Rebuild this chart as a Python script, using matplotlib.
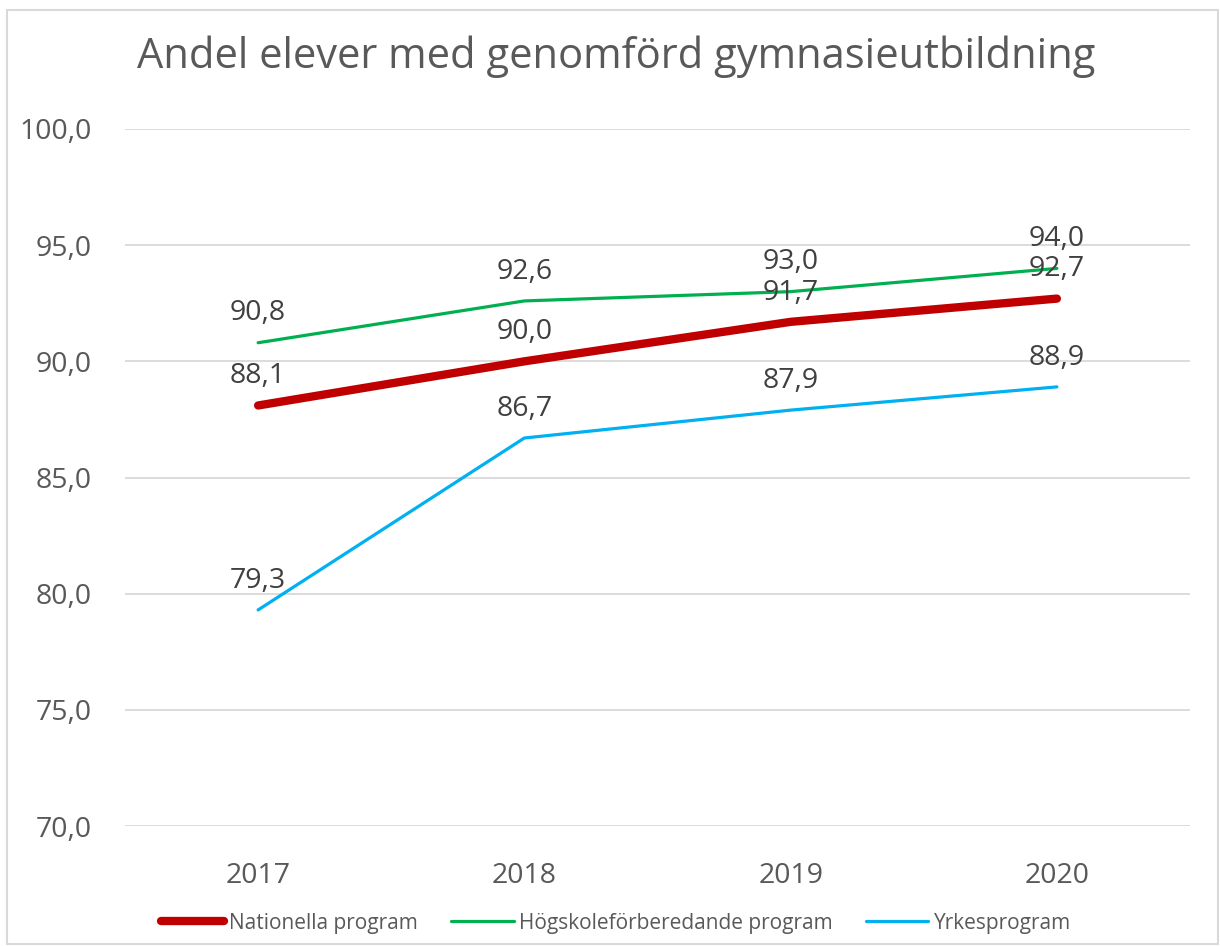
import matplotlib
matplotlib.use("Agg")
import matplotlib.pyplot as plt
from matplotlib.patches import Rectangle

years = ["2017", "2018", "2019", "2020"]
nationella = [88.1, 90.0, 91.7, 92.7]
hogskole = [90.8, 92.6, 93.0, 94.0]
yrkes = [79.3, 86.7, 87.9, 88.9]
yticks = [70.0, 75.0, 80.0, 85.0, 90.0, 95.0, 100.0]

plt.rcParams['font.family'] = ['Open Sans', 'DejaVu Sans']

fig = plt.figure(figsize=(12.2, 9.46), dpi=100)
ax = fig.add_axes([125/1220, 1-826/946, (1190-125)/1220, (826-129)/946])

x = list(range(len(years)))
series = [
    (nationella, "Nationella program", "#C00000", 6.0),
    (hogskole, "Högskoleförberedande program", "#00B050", 2.3),
    (yrkes, "Yrkesprogram", "#00B0F0", 2.3),
]
order = [1, 2, 0]
handles = {}
for i in order:
    vals, name, col, lw = series[i]
    h, = ax.plot(x, vals, color=col, lw=lw, solid_capstyle='round', label=name, zorder=3)
    handles[i] = h
for vals, name, col, lw in series:
    for xi, v in zip(x, vals):
        ax.annotate(f"{v:.1f}".replace(".", ","), (xi, v), xytext=(0, 11),
                    textcoords="offset points", ha="center", va="bottom",
                    fontsize=20.5, color="#404040", zorder=4)

ax.set_xlim(-0.5, 3.5)
ax.set_ylim(70, 100)
ax.set_yticks(yticks)
ax.set_yticklabels([f"{t:.1f}".replace(".", ",") for t in yticks])
ax.set_xticks(x)
ax.set_xticklabels(years)
ax.tick_params(axis='both', length=0, labelsize=20.5, labelcolor="#595959")
ax.tick_params(axis='y', pad=24)
ax.tick_params(axis='x', pad=26)
ax.grid(axis='y', color="#D9D9D9", lw=1.3)
ax.set_axisbelow(True)
for s in ax.spines.values():
    s.set_visible(False)

fig.text(0.505, 1-57/946, "Andel elever med genomförd gymnasieutbildning",
         ha="center", va="center", fontsize=30, color="#595959")

leg = fig.legend([handles[0], handles[1], handles[2]],
                 [s[1] for s in series], loc="center", bbox_to_anchor=(0.505, 1-923/946),
                 ncol=3, frameon=False, fontsize=15, handlelength=3.0,
                 columnspacing=1.6, handletextpad=0.25)
for t in leg.get_texts():
    t.set_color("#595959")

fig.patches.append(Rectangle((7/1220, 1-944/946), (1218-7)/1220, (944-10)/946,
                             transform=fig.transFigure, fill=False,
                             edgecolor="#D9D9D9", lw=1.5))

fig.savefig("out.png", dpi=100)
